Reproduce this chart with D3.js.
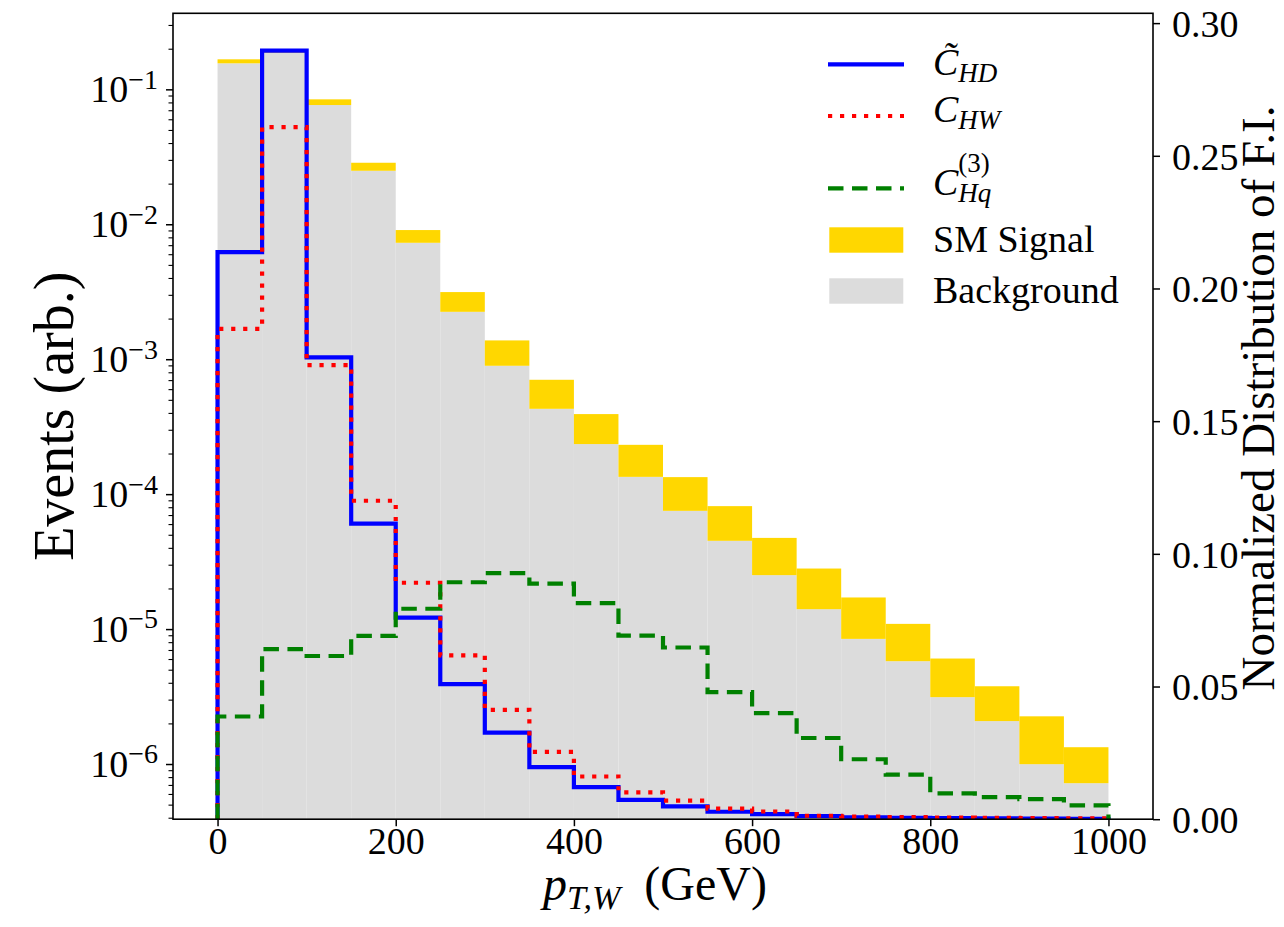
<!DOCTYPE html>
<html>
<head>
<meta charset="utf-8">
<script src="https://cdn.jsdelivr.net/npm/d3@7"></script>
<style>
  body { margin: 0; background: #fff; }
  svg { display: block; }
  text { font-family: "Liberation Serif", "DejaVu Serif", serif; fill: #000; }
</style>
</head>
<body>
<div id="chart"></div>
<script>
// bins of p_T,W (GeV), lower edges; width 50
const binLow = [0, 50, 100, 150, 200, 250, 300, 350, 400, 450, 500, 550, 600, 650, 700, 750, 800, 850, 900, 950];
const binWidth = 50;

// stacked histogram on the left (log) axis
const background = [0.1559, 0.1867, 0.0765, 0.02492, 0.00729, 0.002245, 0.000894, 0.000429, 0.000235, 0.0001343,
  7.52e-5, 4.51e-5, 2.51e-5, 1.404e-5, 8.46e-6, 5.78e-6, 3.13e-6, 2.08e-6, 9.97e-7, 7.21e-7];
const smSignal = [0.0110, 0.0056, 0.0078, 0.00365, 0.00177, 0.000899, 0.000484, 0.000275, 0.000157, 9.77e-5,
  5.85e-5, 3.64e-5, 2.23e-5, 1.406e-5, 8.69e-6, 5.15e-6, 2.92e-6, 1.69e-6, 1.26e-6, 6.11e-7];

// normalized F.I. distributions on the right (linear) axis
const cHD = [0.2137, 0.2896, 0.1740, 0.1114, 0.0760, 0.0509, 0.0326, 0.0196, 0.0121, 0.0073,
  0.0048, 0.0028, 0.0019, 0.0012, 0.0007, 0.0005, 0.0004, 0.0003, 0.0002, 0.0001];
const cHW = [0.1848, 0.2608, 0.1711, 0.1200, 0.0891, 0.0617, 0.0412, 0.0254, 0.0161, 0.0101,
  0.0070, 0.0040, 0.0029, 0.0013, 0.0010, 0.0008, 0.0006, 0.0005, 0.0004, 0.0003];
const cHq3 = [0.0387, 0.0641, 0.0615, 0.0691, 0.0793, 0.0893, 0.0927, 0.0888, 0.0814, 0.0692,
  0.0647, 0.0479, 0.0400, 0.0306, 0.0226, 0.0168, 0.0097, 0.0083, 0.0076, 0.0052];

const xTicks = [0, 200, 400, 600, 800, 1000];
const leftTicks = [1e-6, 1e-5, 1e-4, 1e-3, 1e-2, 1e-1];
const rightTicks = [0, 0.05, 0.10, 0.15, 0.20, 0.25, 0.30];

const W = 1284, H = 927;
const box = { left: 173, right: 1153, top: 13.3, bottom: 819.2 };
const serif = '"Liberation Serif", "DejaVu Serif", serif';

const svg = d3.select('#chart').append('svg').attr('width', W).attr('height', H);

const x = d3.scaleLinear().domain([-50, 1050]).range([box.left, box.right]);
const yL = d3.scaleLog().domain([3.9e-7, 0.366]).range([box.bottom, box.top]);
const yR = d3.scaleLinear().domain([0, 0.3037]).range([box.bottom, box.top]);

svg.append('clipPath').attr('id', 'clip')
  .append('rect')
  .attr('x', box.left).attr('y', box.top)
  .attr('width', box.right - box.left).attr('height', box.bottom - box.top);

const g = svg.append('g').attr('clip-path', 'url(#clip)');

const bins = binLow.map((lo, i) => ({ lo, bg: background[i], sig: smSignal[i] }));

// background bars
g.selectAll('rect.bg')
  .data(bins)
  .enter()
  .append('rect')
  .attr('class', 'bg')
  .attr('x', (d) => x(d.lo))
  .attr('width', (d) => x(d.lo + binWidth) - x(d.lo))
  .attr('y', (d) => yL(d.bg))
  .attr('height', (d) => box.bottom - yL(d.bg))
  .attr('fill', '#dcdcdc');

// SM signal stacked on top
g.selectAll('rect.sig')
  .data(bins)
  .enter()
  .append('rect')
  .attr('class', 'sig')
  .attr('x', (d) => x(d.lo))
  .attr('width', (d) => x(d.lo + binWidth) - x(d.lo))
  .attr('y', (d) => yL(d.bg + d.sig))
  .attr('height', (d) => yL(d.bg) - yL(d.bg + d.sig))
  .attr('fill', '#ffd700');

// step outlines like hist(histtype='step')
const stepPoints = (vals) => {
  const last = binLow[binLow.length - 1] + binWidth;
  const pts = [[binLow[0], 0]];
  vals.forEach((v, i) => pts.push([binLow[i], v]));
  pts.push([last, vals[vals.length - 1]]);
  pts.push([last, 0]);
  return pts;
};

const line = d3.line()
  .x((d) => x(d[0]))
  .y((d) => yR(d[1]))
  .curve(d3.curveStepAfter);

const series = [
  { vals: cHD, color: '#0000ff', dash: null },
  { vals: cHW, color: '#ff0000', dash: '4.2,7.8' },
  { vals: cHq3, color: '#008000', dash: '15.5,8.5' },
];

series.forEach((s) => {
  g.append('path')
    .attr('d', line(stepPoints(s.vals)))
    .attr('fill', 'none')
    .attr('stroke', s.color)
    .attr('stroke-width', 4.2)
    .attr('stroke-dasharray', s.dash)
    .attr('stroke-linejoin', 'miter');
});

// spines
svg.append('rect')
  .attr('x', box.left).attr('y', box.top)
  .attr('width', box.right - box.left).attr('height', box.bottom - box.top)
  .attr('fill', 'none').attr('stroke', '#000').attr('stroke-width', 1.6);

// x axis
const xAxis = svg.append('g')
  .attr('transform', `translate(0,${box.bottom})`)
  .call(d3.axisBottom(x).tickValues(xTicks).tickSize(7).tickPadding(5).tickFormat(d3.format('d')));
xAxis.select('.domain').remove();
xAxis.selectAll('line').attr('stroke-width', 1.5);
xAxis.selectAll('text').attr('font-size', 38).attr('font-family', serif).attr('dy', '0.6em');

// left log axis, major + minor ticks
const minor = [];
for (let e = -7; e <= -1; e++) {
  for (let m = 2; m <= 9; m++) {
    const v = m * Math.pow(10, e);
    if (v > yL.domain()[0] && v < yL.domain()[1]) minor.push(v);
  }
}
const leftMinor = svg.append('g')
  .attr('transform', `translate(${box.left},0)`)
  .call(d3.axisLeft(yL).tickValues(minor).tickSize(4.5).tickFormat(''));
leftMinor.select('.domain').remove();
leftMinor.selectAll('line').attr('stroke-width', 1.1);

const leftAxis = svg.append('g')
  .attr('transform', `translate(${box.left},0)`)
  .call(d3.axisLeft(yL).tickValues(leftTicks).tickSize(7).tickFormat(''));
leftAxis.select('.domain').remove();
leftAxis.selectAll('line').attr('stroke-width', 1.5);
leftAxis.selectAll('.tick text').remove();
leftAxis.selectAll('.tick')
  .append('text')
  .attr('x', -15)
  .attr('y', 12.4)
  .attr('text-anchor', 'end')
  .attr('font-family', serif)
  .each(function (d) {
    const t = d3.select(this);
    t.append('tspan').attr('font-size', 38).text('10');
    t.append('tspan').attr('font-size', 28).attr('dy', -13.5)
      .text('\u2212' + Math.round(-Math.log10(d)));
  });

// right linear axis
const rightAxis = svg.append('g')
  .attr('transform', `translate(${box.right},0)`)
  .call(d3.axisRight(yR).tickValues(rightTicks).tickSize(7).tickPadding(12).tickFormat(d3.format('.2f')));
rightAxis.select('.domain').remove();
rightAxis.selectAll('line').attr('stroke-width', 1.5);
rightAxis.selectAll('text').attr('font-size', 38).attr('font-family', serif).attr('dy', '0.35em');

// axis titles
const xt = svg.append('text')
  .attr('x', (box.left + box.right) / 2 - 8)
  .attr('y', 900)
  .attr('text-anchor', 'middle')
  .attr('font-size', 48);
xt.append('tspan').attr('font-style', 'italic').text('p');
xt.append('tspan').attr('font-size', 34).attr('font-style', 'italic').attr('dy', 9).text('T,W');
xt.append('tspan').attr('dy', -9).text('\u2002(GeV)');

svg.append('text')
  .attr('transform', `translate(73,${(box.top + box.bottom) / 2}) rotate(-90)`)
  .attr('text-anchor', 'middle')
  .attr('font-size', 56)
  .text('Events (arb.)');

svg.append('text')
  .attr('transform', `translate(1274,398) rotate(-90)`)
  .attr('text-anchor', 'middle')
  .attr('font-size', 47)
  .text('Normalized Distribution of F.I.');

// legend
const leg = svg.append('g');
const hx0 = 828, hx1 = 904, tx = 933;

const legLines = [
  { y: 64.3, color: '#0000ff', dash: null },
  { y: 116, color: '#ff0000', dash: '4.2,7.8' },
  { y: 188.3, color: '#008000', dash: '15.5,8.5' },
];
legLines.forEach((l) => {
  leg.append('line')
    .attr('x1', hx0).attr('x2', hx1).attr('y1', l.y).attr('y2', l.y)
    .attr('stroke', l.color).attr('stroke-width', 4.2)
    .attr('stroke-dasharray', l.dash);
});
leg.append('rect').attr('x', 829.3).attr('y', 227.3).attr('width', 74).attr('height', 25.4).attr('fill', '#ffd700');
leg.append('rect').attr('x', 829.3).attr('y', 278.3).attr('width', 74).attr('height', 25.4).attr('fill', '#dcdcdc');

const fs = 38, sub = 27;
// C~_HD (combining tilde keeps it one glyph run)
const l1 = leg.append('text').attr('x', tx).attr('y', 75).attr('font-size', fs).attr('font-style', 'italic');
l1.append('tspan').text('C\u0303');
l1.append('tspan').attr('dy', 7).attr('font-size', sub).text('HD');
// C_HW
const l2 = leg.append('text').attr('x', tx).attr('y', 122).attr('font-size', fs).attr('font-style', 'italic');
l2.append('tspan').text('C');
l2.append('tspan').attr('dy', 7).attr('font-size', sub).text('HW');
// C_Hq^(3)
const l3 = leg.append('text').attr('x', tx).attr('y', 195).attr('font-size', fs).attr('font-style', 'italic');
l3.append('tspan').text('C');
l3.append('tspan').attr('dy', -23).attr('font-size', sub).attr('font-style', 'normal').text('(3)');
l3.append('tspan').attr('dx', -31.5).attr('dy', 30).attr('font-size', sub).text('Hq');
// patches
leg.append('text').attr('x', tx).attr('y', 252.3).attr('font-size', fs).text('SM Signal');
leg.append('text').attr('x', tx).attr('y', 303.3).attr('font-size', fs).text('Background');
</script>
</body>
</html>
